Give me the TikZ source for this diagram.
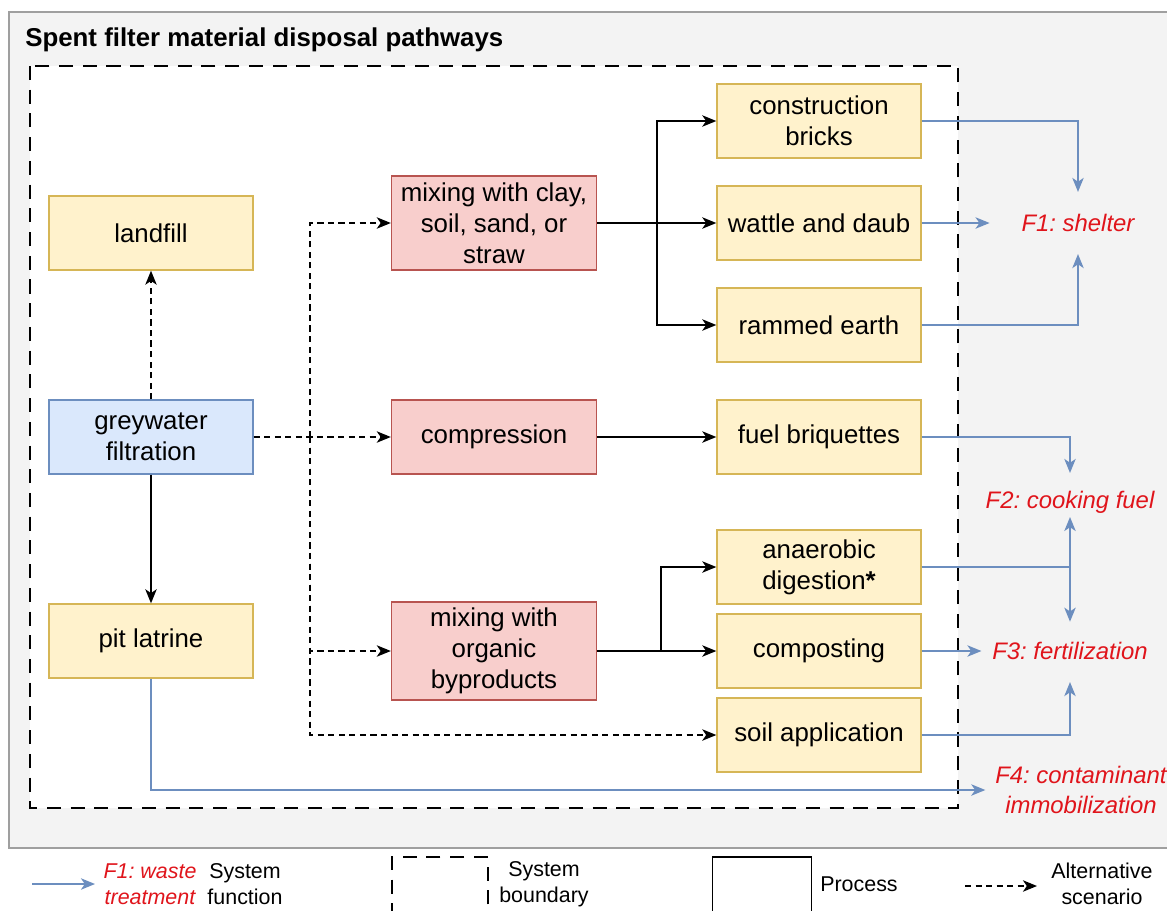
\documentclass[tikz,border=0pt]{standalone}
\usepackage{fontspec}
\setmainfont{Liberation Sans}
\usetikzlibrary{arrows.meta}
\usetikzlibrary{positioning}
\frenchspacing

\definecolor{yellowfill}{HTML}{FFF2CC}
\definecolor{yellowline}{HTML}{D6B656}
\definecolor{bluefill}{HTML}{DAE8FC}
\definecolor{blueline}{HTML}{6C8EBF}
\definecolor{redfill}{HTML}{F8CECC}
\definecolor{redline}{HTML}{B85450}
\definecolor{funcred}{HTML}{E0141B}
\definecolor{framegray}{HTML}{F3F3F3}

\newcommand{\procfont}{\fontsize{14.7}{17.6}\selectfont}
\newcommand{\funcfont}{\fontsize{13.6}{17}\selectfont\itshape}
\newcommand{\legfont}{\fontsize{12.2}{14.7}\selectfont}

\begin{document}
\begin{tikzpicture}[x=0.02cm,y=-0.02cm,
  procbox/.style={draw=yellowline,fill=yellowfill,line width=0.8pt,minimum width=4.08cm,minimum height=1.48cm,align=center,font=\procfont},
  sourcebox/.style={procbox,draw=blueline,fill=bluefill},
  mixbox/.style={procbox,draw=redline,fill=redfill,minimum width=4.1cm,minimum height=1.88cm},
  funclabel/.style={text=funcred,font=\funcfont,align=center,inner sep=1pt},
  legtext/.style={font=\legfont,align=center,inner sep=1pt},
  mainarrow/.style={-{Stealth[length=8pt,width=6.5pt,inset=2.2pt]},line width=0.8pt,black},
  altarrow/.style={mainarrow,dash pattern=on 3.5pt off 2.5pt},
  funcarrow/.style={-{Stealth[length=8pt,width=6.5pt,inset=2.2pt]},line width=0.8pt,blueline},
  boundary/.style={line width=1pt,dash pattern=on 8pt off 5.5pt}]
\clip (0,0) rectangle (1167,910);
\fill[white] (0,0) rectangle (1167,910);

% frame and system boundary
\draw[fill=framegray,draw=gray!75,line width=1pt] (9,12) rectangle (1190,848);
\node[anchor=west,inner sep=0pt,font=\bfseries\procfont] (title) at (25,40) {Spent filter material disposal pathways};
\draw[boundary,fill=white] (30,66) rectangle (958,808);

% left column
\node[procbox] (landfill) at (151,233) {landfill};
\node[sourcebox] (grey) at (151,437) {greywater\\filtration};
\node[procbox] (pit) at (151,641) {pit latrine};

% treatment
\node[mixbox] (mixclay) at (494,223) {mixing with clay,\\soil, sand, or\\straw};
\node[mixbox,minimum height=1.48cm] (compr) at (494,437) {compression};
\node[mixbox] (mixorg) at (494,651) {mixing with\\organic\\byproducts};

% products
\node[procbox] (bricks) at (819,121) {construction\\bricks};
\node[procbox] (wattle) at (819,223) {wattle and daub};
\node[procbox] (rammed) at (819,325) {rammed earth};
\node[procbox] (fuel) at (819,437) {fuel briquettes};
\node[procbox] (anaer) at (819,567) {anaerobic\\digestion\textbf{*}};
\node[procbox] (compost) at (819,651) {composting};
\node[procbox] (soil) at (819,735) {soil application};

% system functions
\node[funclabel] (f1) at (1078,223) {F1: shelter};
\node[funclabel] (f2) at (1070,502) {F2: cooking fuel};
\node[funclabel] (f3) at (1070,651) {F3: fertilization};
\node[funclabel] (f4) at (1081,790) {F4: contaminant\\immobilization};

% pathways
\coordinate (split) at (310,437);
\coordinate (claybranch) at (657,223);
\coordinate (orgbranch) at (661,651);
\draw[altarrow] (grey.north) -- (landfill.south);
\draw[mainarrow] (grey.south) -- (pit.north);
\draw[altarrow] (grey.east) -- (compr.west);
\draw[altarrow] (split) |- (mixclay.west);
\draw[altarrow] (split) |- (mixorg.west);
\draw[altarrow] (split) |- (soil.west);
\draw[mainarrow] (mixclay.east) -- (wattle.west);
\draw[mainarrow] (claybranch) |- (bricks.west);
\draw[mainarrow] (claybranch) |- (rammed.west);
\draw[mainarrow] (compr.east) -- (fuel.west);
\draw[mainarrow] (mixorg.east) -- (compost.west);
\draw[mainarrow] (orgbranch) |- (anaer.west);

% to functions
\draw[funcarrow,shorten >=11.5pt] (bricks.east) -| (f1.north);
\draw[funcarrow,shorten >=17pt] (wattle.east) -- (f1.west);
\draw[funcarrow,shorten >=11.5pt] (rammed.east) -| (f1.south);
\draw[funcarrow,shorten >=9pt] (fuel.east) -| (f2.north);
\draw[funcarrow,shorten >=1pt] (anaer.east) -| (f2.south);
\draw[funcarrow,shorten >=10.5pt] (anaer.east) -| (f3.north);
\draw[funcarrow,shorten >=5pt] (compost.east) -- (f3.west);
\draw[funcarrow,shorten >=11.5pt] (soil.east) -| (f3.south);
\draw[funcarrow,shorten >=4.5pt] (pit.south) |- (f4.west);

% legend
\coordinate (legfuncstart) at (32,884);
\coordinate (legfuncend) at (95,884);
\draw[funcarrow] (legfuncstart) -- (legfuncend);
\node[legtext,text=funcred,font=\legfont\itshape] (legfunc) at (150,884) {F1: waste\\treatment};
\node[legtext] (legfunctext) at (245,884) {System\\function};
\node[draw,boundary,line width=0.8pt,minimum width=1.92cm,minimum height=1.4cm] (legbound) at (440,892) {};
\node[legtext] (legboundtext) at (544,884) {System\\boundary};
\node[draw,line width=1pt,minimum width=1.98cm,minimum height=1.4cm] (legproc) at (762,892) {};
\node[legtext] (legproctext) at (859,884) {Process};
\coordinate (legaltstart) at (965,886);
\coordinate (legaltend) at (1037,886);
\draw[altarrow] (legaltstart) -- (legaltend);
\node[legtext] (legalttext) at (1102,884) {Alternative\\scenario};
\end{tikzpicture}
\end{document}
